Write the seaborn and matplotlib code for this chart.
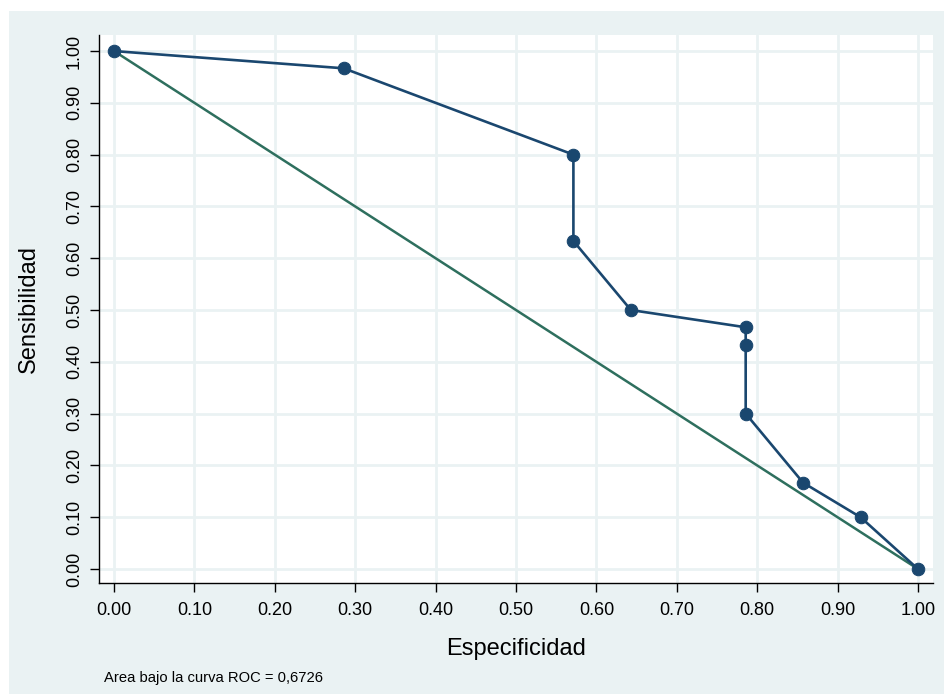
import matplotlib
matplotlib.use("Agg")
import matplotlib.pyplot as plt
import numpy as np
import pandas as pd
import seaborn as sns
from matplotlib.patches import Rectangle

sns.set_theme(style="white")
plt.rcParams["font.family"] = ["Liberation Sans", "DejaVu Sans"]
plt.rcParams.update({"text.color": "black", "axes.labelcolor": "black",
                     "xtick.color": "black", "ytick.color": "black"})

BG = "#EAF2F3"
NAVY = "#1a476f"
GREEN = "#2e6f5e"

especificidad = [0.0, 0.2857, 0.5714, 0.5714, 0.6429, 0.7857, 0.7857, 0.7857, 0.8571, 0.9286, 1.0]
sensibilidad = [1.0, 0.9667, 0.8, 0.6333, 0.5, 0.4667, 0.4333, 0.3, 0.1667, 0.1, 0.0]
ref_x = [0.0, 1.0]
ref_y = [1.0, 0.0]
ticks = [0.0, 0.1, 0.2, 0.3, 0.4, 0.5, 0.6, 0.7, 0.8, 0.9, 1.0]
tick_labels = [f"{t:.2f}" for t in ticks]
auc_text = "Area bajo la curva ROC = 0,6726"

df = pd.DataFrame({"esp": especificidad, "sens": sensibilidad})

fig = plt.figure(figsize=(9.45, 6.94), dpi=100, facecolor="white")
fig.patches.append(Rectangle((9 / 945, 0), 1, (694 - 11) / 694, transform=fig.transFigure,
                             facecolor=BG, edgecolor="none", zorder=-10))
ax = fig.add_axes([99 / 945, 1 - 583 / 694, (933 - 99) / 945, (583 - 35) / 694])
ax.set_facecolor("white")

ax.plot(ref_x, ref_y, color=GREEN, linewidth=1.8, zorder=2)
sns.lineplot(data=df, x="esp", y="sens", sort=False, estimator=None, ax=ax,
             color=NAVY, linewidth=1.9, marker="o", markersize=9,
             markeredgecolor=NAVY, zorder=3)

ax.set_xlim(-0.0187, 1.0187)
ax.set_ylim(-0.027, 1.031)
ax.set_xticks(ticks)
ax.set_xticklabels(tick_labels, fontsize=13)
ax.set_yticks(ticks)
ax.set_yticklabels(tick_labels, fontsize=13, rotation=90, va="center")
ax.grid(True, color=BG, linewidth=2)
ax.set_axisbelow(True)

for s in ["top", "right"]:
    ax.spines[s].set_visible(False)
for s in ["left", "bottom"]:
    ax.spines[s].set_color("black")
    ax.spines[s].set_linewidth(1.0)
ax.tick_params(axis="x", direction="out", length=6.5, width=1, color="black",
               bottom=True, pad=7)
ax.tick_params(axis="y", direction="out", length=6.5, width=1, color="black",
               left=True, pad=5)

ax.set_xlabel("Especificidad", fontsize=17, labelpad=14)
ax.set_ylabel("Sensibilidad", fontsize=17, labelpad=19)

fig.text(104 / 945, 1 - 678 / 694, auc_text, fontsize=10.6, va="center", ha="left")

fig.savefig("out.png", dpi=100, facecolor=fig.get_facecolor())
